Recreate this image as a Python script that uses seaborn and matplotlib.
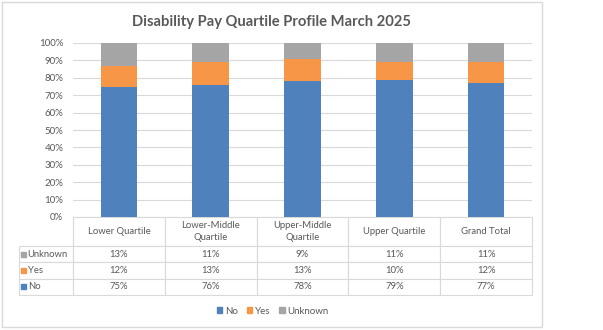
import matplotlib
matplotlib.use("Agg")
import matplotlib.pyplot as plt
import seaborn as sns
import pandas as pd
import numpy as np
from matplotlib.patches import Patch, Rectangle

categories = ["Lower Quartile", "Lower-Middle\nQuartile", "Upper-Middle\nQuartile", "Upper Quartile", "Grand Total"]
no_vals = [75, 76, 78, 79, 77]
yes_vals = [12, 13, 13, 10, 12]
unknown_vals = [13, 11, 9, 11, 11]
series_names = ["No", "Yes", "Unknown"]
colors = {"No": "#4F81BD", "Yes": "#F79646", "Unknown": "#A5A5A5"}
title = "Disability Pay Quartile Profile March 2025"
text_color = "#595959"
grid_color = "#D9D9D9"

sns.set_theme(style="white")
plt.rcParams["font.family"] = ["Lato", "DejaVu Sans"]

df = pd.DataFrame({"cat": categories, "No": no_vals, "Yes": yes_vals, "Unknown": unknown_vals})
df["c_no"] = df["No"]
df["c_yes"] = df["No"] + df["Yes"]
df["c_unk"] = df["No"] + df["Yes"] + df["Unknown"]

fig = plt.figure(figsize=(6.03, 3.30), dpi=100)
W, H = 603, 330
ax = fig.add_axes([73 / W, 1 - 217 / H, (532 - 73) / W, (217 - 43) / H])

for col, name in [("c_unk", "Unknown"), ("c_yes", "Yes"), ("c_no", "No")]:
    sns.barplot(data=df, x="cat", y=col, color=colors[name], width=0.4,
                saturation=1, ax=ax, zorder=3, edgecolor="none")

ax.set_ylim(0, 100)
ax.set_xlim(-0.5, len(categories) - 0.5)
ax.set_yticks(np.arange(0, 101, 10))
ax.set_yticklabels([f"{v}%" for v in range(0, 101, 10)], fontsize=7, color=text_color)
ax.tick_params(axis="y", length=0, pad=7)
ax.set_xticks([])
ax.set_xlabel("")
ax.set_ylabel("")
ax.yaxis.grid(True, color=grid_color, linewidth=0.8, zorder=0)
ax.set_axisbelow(True)
for s in ax.spines.values():
    s.set_visible(False)

# data table
rows = [("Unknown", unknown_vals), ("Yes", yes_vals), ("No", no_vals)]
cell_text = [[""] + [c for c in categories]]
for name, vals in rows:
    cell_text.append([name] + [f"{v}%" for v in vals])

label_w = (73 - 19) / 459
data_w = 1.0 / len(categories)
col_widths = [label_w] + [data_w] * len(categories)
tbl = ax.table(cellText=cell_text, colWidths=col_widths, cellLoc="center",
               bbox=[-label_w, -(295 - 217) / 174, 1 + label_w, (295 - 217) / 174])
tbl.auto_set_font_size(False)
row_heights = [29, 16.3, 16.3, 16.3]
for (r, c), cell in tbl.get_celld().items():
    cell.set_height(row_heights[r])
    cell.set_edgecolor(grid_color)
    cell.set_linewidth(0.8)
    cell.get_text().set_fontsize(6.8)
    cell.get_text().set_color(text_color)
    cell.get_text().set_linespacing(1.4)
    cell.set_facecolor("white")
    if r == 0 and c == 0:
        cell.visible_edges = ""
    if c == 0 and r > 0:
        cell.get_text().set_ha("left")
        cell._loc = "left"
        cell.PAD = 0.16

# colored squares in table row labels
for i, (name, vals) in enumerate(rows):
    ycen = 246 + 16.3 * i + 8.2
    fig.patches.append(Rectangle((20.5 / W, 1 - (ycen + 2.5) / H), 5 / W, 5 / H,
                                 transform=fig.transFigure, color=colors[name], zorder=5))

fig.text(272 / W, 1 - 22 / H, title, ha="center", va="center", fontsize=10.6,
         fontweight="bold", color=text_color)

handles = [Patch(color=colors[n], label=n) for n in series_names]
fig.legend(handles=handles, loc="center", bbox_to_anchor=(273 / W, 1 - 311 / H), ncol=3,
           frameon=False, fontsize=7, handlelength=0.55, handleheight=0.55,
           handletextpad=0.3, columnspacing=0.9, labelcolor=text_color)

fig.patches.append(Rectangle((2 / W, 1 - 327 / H), 540 / W, 325 / H, transform=fig.transFigure,
                             fill=False, edgecolor=grid_color, linewidth=1))

fig.savefig("out.png", dpi=100, facecolor="white")
